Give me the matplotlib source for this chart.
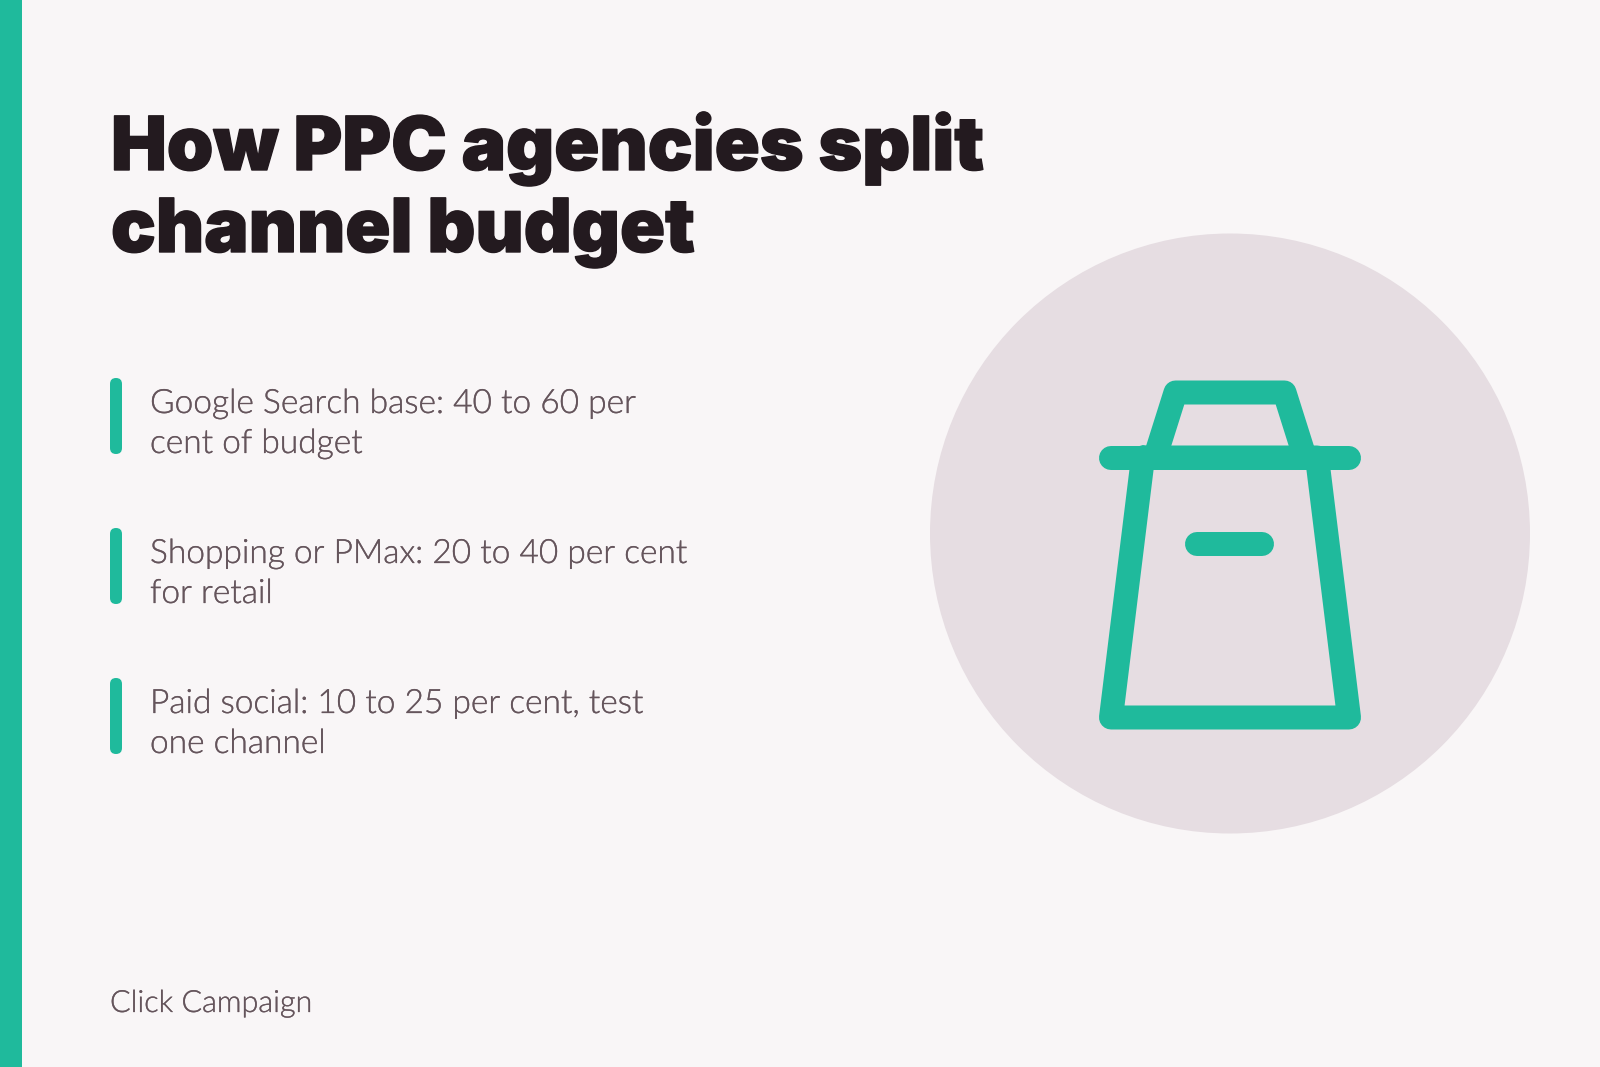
import matplotlib
matplotlib.use("Agg")
import matplotlib.pyplot as plt
import matplotlib.patheffects as pe
from matplotlib.patches import Circle, FancyBboxPatch, Rectangle

TITLE_LINES = ["How PPC agencies split", "channel budget"]
BULLETS = [
    ["Google Search base: 40 to 60 per", "cent of budget"],
    ["Shopping or PMax: 20 to 40 per cent", "for retail"],
    ["Paid social: 10 to 25 per cent, test", "one channel"],
]
FOOTER = "Click Campaign"

BG = "#F9F6F7"
TEAL = "#1FBA9C"
DISC = "#E6DDE2"
DARK = "#231A1F"
BODY = "#65555C"

fig = plt.figure(figsize=(16, 10.67), dpi=100, facecolor=BG)
ax = fig.add_axes([0, 0, 1, 1])
ax.set_xlim(0, 1600)
ax.set_ylim(1067, 0)
ax.axis("off")

ax.add_patch(Rectangle((0, 0), 22, 1067, color=TEAL, lw=0))

title_fx = [pe.withStroke(linewidth=1.0, foreground=DARK)]
for i, line in enumerate(TITLE_LINES):
    ax.text(111, 170 + i * 82, line, family="Inter", weight=900, fontsize=53.6,
            color=DARK, va="baseline", ha="left", path_effects=title_fx)

body_fx = [pe.withStroke(linewidth=0.2, foreground=BODY)]
for i, lines in enumerate(BULLETS):
    top = 378 + i * 150
    ax.add_patch(FancyBboxPatch((110 + 6, top + 6), 0, 64,
                                boxstyle="round,pad=6,rounding_size=6",
                                fc=TEAL, ec="none"))
    for j, line in enumerate(lines):
        ax.text(150, top + 35 + j * 40, line, family="Lato", weight=300, fontsize=24.1,
                color=BODY, va="baseline", ha="left", path_effects=body_fx)

ax.text(110, 1012, FOOTER, family="Lato", weight=300, fontsize=22,
        color=BODY, va="baseline", ha="left", path_effects=body_fx)

ax.add_patch(Circle((1230, 533.5), 300, fc=DISC, ec="none"))

lw = 24 * 72 / 100
style = dict(color=TEAL, lw=lw, solid_capstyle="round", solid_joinstyle="round")
ax.plot([1155, 1175.5, 1284.5, 1305], [457.5, 392.5, 392.5, 457.5], **style)
ax.plot([1143, 1111, 1349, 1317, 1143], [457.5, 717.5, 717.5, 457.5, 457.5], **style)
ax.plot([1111, 1349], [457.5, 457.5], **style)
ax.plot([1197, 1262], [544, 544], **style)

fig.savefig("out.png", dpi=100, facecolor=BG)
